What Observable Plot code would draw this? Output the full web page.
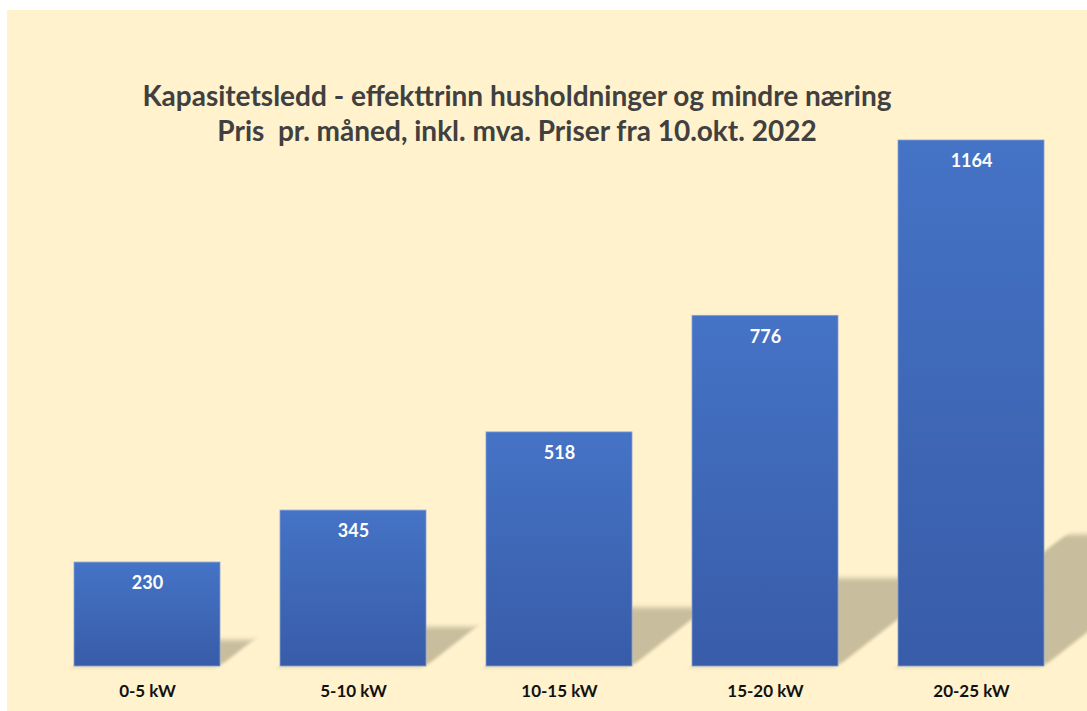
<!DOCTYPE html>
<html><head><meta charset="utf-8">
<script src="https://cdn.jsdelivr.net/npm/d3@7"></script>
<script src="https://cdn.jsdelivr.net/npm/@observablehq/plot@0.6"></script>
<style>
body{margin:0;background:#fff;}
#wrap{position:absolute;left:7px;top:10px;width:1080px;height:701px;background:#fff2cc;overflow:hidden;}
#title{position:absolute;left:0;width:1020px;top:68px;text-align:center;font-family:Lato,sans-serif;font-weight:bold;color:#404040;font-size:28px;line-height:35px;white-space:nowrap;}
#chart{position:absolute;left:0;top:0;}
</style></head><body>
<div id="wrap"><div id="chart"></div><div id="title"><div>Kapasitetsledd - effekttrinn husholdninger og mindre næring</div><div>Pris&nbsp; pr. måned, inkl. mva. Priser fra 10.okt. 2022</div></div></div>
<script>
const categories = ["0-5 kW","5-10 kW","10-15 kW","15-20 kW","20-25 kW"];
const values = [230, 345, 518, 776, 1164];
const data = categories.map((c, i) => ({category: c, value: values[i]}));

const shadowDepth = 0.25; // shadow height relative to bar height
const skewDeg = -52;

const svg = Plot.plot({
  width: 1080,
  height: 701,
  marginLeft: 36,
  marginRight: 11,
  marginTop: 130,
  marginBottom: 45,
  style: {background: "transparent", fontFamily: "Lato, sans-serif", overflow: "visible"},
  x: {domain: categories, paddingInner: 0.29, paddingOuter: 0.145, axis: null},
  y: {domain: [0, 1164], axis: null},
  marks: [
    Plot.barY(data, {
      x: "category",
      y: d => d.value * shadowDepth,
      fill: "#c8bd9c",
      render(index, scales, values, dimensions, context, next) {
        const g = next(index, scales, values, dimensions, context);
        const b = scales.y(0);
        g.setAttribute("transform", `translate(0,${b}) skewX(${skewDeg}) translate(0,${-b})`);
        g.setAttribute("filter", "url(#shadowBlur)");
        return g;
      }
    }),
    Plot.barY(data, {x: "category", y: "value", fill: "url(#barGrad)", stroke: "#86a0d4", strokeWidth: 0.8}),
    Plot.text(data, {x: "category", y: "value", text: d => String(d.value), dy: 21, fill: "white", fontSize: 18, fontWeight: "bold"}),
    Plot.axisX({tickSize: 0, tickPadding: 18, fontSize: 17, fontWeight: "bold", color: "#111", label: null})
  ]
});

const defs = d3.select(svg).insert("defs", ":first-child");
const grad = defs.append("linearGradient").attr("id", "barGrad").attr("x1", 0).attr("y1", 0).attr("x2", 0).attr("y2", 1);
grad.append("stop").attr("offset", "0%").attr("stop-color", "#4573c6");
grad.append("stop").attr("offset", "100%").attr("stop-color", "#385ca8");
defs.append("filter").attr("id", "shadowBlur").attr("x", "-20%").attr("y", "-20%").attr("width", "140%").attr("height", "140%")
  .append("feGaussianBlur").attr("stdDeviation", 2.5);

document.getElementById("chart").appendChild(svg);
</script>
</body></html>
